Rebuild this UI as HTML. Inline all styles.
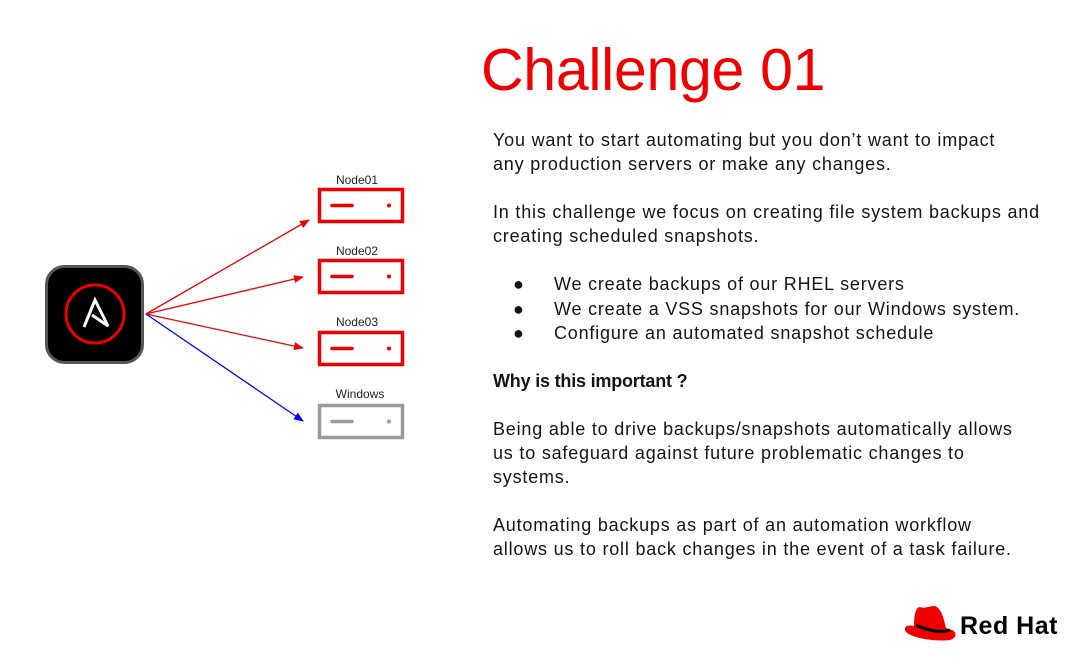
<!DOCTYPE html>
<html><head><style>
body{margin:0;width:1091px;height:658px;background:#fff;position:relative;overflow:hidden;font-family:"Liberation Sans",sans-serif;}
.t{position:absolute;color:#151515;font-size:18px;line-height:24px;white-space:nowrap;letter-spacing:0.8px;}
</style></head><body>
<div style="position:absolute;left:481px;top:35px;font-size:59px;color:#ee0000;line-height:70px;letter-spacing:-0.3px">Challenge 01</div>
<div class="t" style="left:493px;top:128px">You want to start automating but you don’t want to impact<br>any production servers or make any changes.</div>
<div class="t" style="left:493px;top:200px">In this challenge we focus on creating file system backups and<br>creating scheduled snapshots.</div>
<div class="t" style="left:513px;top:272px">●</div><div class="t" style="left:554px;top:272px">We create backups of our RHEL servers</div>
<div class="t" style="left:513px;top:297px">●</div><div class="t" style="left:554px;top:297px">We create a VSS snapshots for our Windows system.</div>
<div class="t" style="left:513px;top:321px">●</div><div class="t" style="left:554px;top:321px">Configure an automated snapshot schedule</div>
<div class="t" style="left:493px;top:369px;font-weight:bold;letter-spacing:-0.2px">Why is this important ?</div>
<div class="t" style="left:493px;top:417px">Being able to drive backups/snapshots automatically allows<br>us to safeguard against future problematic changes to<br>systems.</div>
<div class="t" style="left:493px;top:513px">Automating backups as part of an automation workflow<br>allows us to roll back changes in the event of a task failure.</div>
<svg width="1091" height="658" style="position:absolute;left:0;top:0">
<defs>
<marker id="r" markerWidth="10" markerHeight="8" refX="9" refY="4" orient="auto" markerUnits="userSpaceOnUse"><path d="M0,0L10,4L0,8z" fill="#e00"/></marker>
<marker id="b" markerWidth="10" markerHeight="8" refX="9" refY="4" orient="auto" markerUnits="userSpaceOnUse"><path d="M0,0L10,4L0,8z" fill="#00f"/></marker>
</defs>
<rect x="46.5" y="266.5" width="96" height="96" rx="18" fill="#000" stroke="#555" stroke-width="3"/>
<circle cx="95" cy="314" r="29" fill="none" stroke="#e00" stroke-width="3"/>
<path d="M84,327L95,300L108,326L92,315" fill="none" stroke="#fff" stroke-width="3" stroke-linejoin="miter"/>
<g stroke-width="1.3" fill="none">
<line x1="146" y1="314" x2="309" y2="220" stroke="#e00" marker-end="url(#r)"/>
<line x1="146" y1="314" x2="303" y2="277" stroke="#e00" marker-end="url(#r)"/>
<line x1="146" y1="314" x2="303" y2="348" stroke="#e00" marker-end="url(#r)"/>
<line x1="146" y1="314" x2="303" y2="421" stroke="#00f" marker-end="url(#b)"/>
</g>
<g font-size="12" fill="#222" text-anchor="middle" font-family="Liberation Sans">
<text x="357" y="184">Node01</text><text x="357" y="255">Node02</text><text x="357" y="326">Node03</text><text x="360" y="398">Windows</text>
</g>
<g fill="none" stroke-width="3.5">
<rect x="319.5" y="189.5" width="83" height="32" stroke="#e00"/>
<rect x="319.5" y="260.5" width="83" height="32" stroke="#e00"/>
<rect x="319.5" y="332.5" width="83" height="32" stroke="#e00"/>
<rect x="319.5" y="405.5" width="83" height="32" stroke="#999"/>
</g>
<g stroke-width="3.5" stroke-linecap="round">
<line x1="332" y1="205.5" x2="352" y2="205.5" stroke="#e00"/>
<line x1="332" y1="276.5" x2="352" y2="276.5" stroke="#e00"/>
<line x1="332" y1="348.5" x2="352" y2="348.5" stroke="#e00"/>
<line x1="332" y1="421.5" x2="352" y2="421.5" stroke="#999"/>
</g>
<circle cx="389" cy="205.5" r="2" fill="#e00"/><circle cx="389" cy="276.5" r="2" fill="#e00"/><circle cx="389" cy="348.5" r="2" fill="#e00"/><circle cx="389" cy="421.5" r="2" fill="#999"/>
<path d="M914,626C906,624 903,628 906,632C912,638 935,642 950,640C957,638 957,632 952,630L946,628C944,620 942,609 935,606C929,606 925,609 920,607C916,607 914,614 914,626z" fill="#e00"/>
<path d="M916,625C928,631 942,633 950,630" stroke="#000" stroke-width="3" fill="none"/>
<text x="960" y="634" font-size="25" font-weight="bold" fill="#000" font-family="Liberation Sans" letter-spacing="0.5">Red Hat</text>
</svg>
</body></html>
